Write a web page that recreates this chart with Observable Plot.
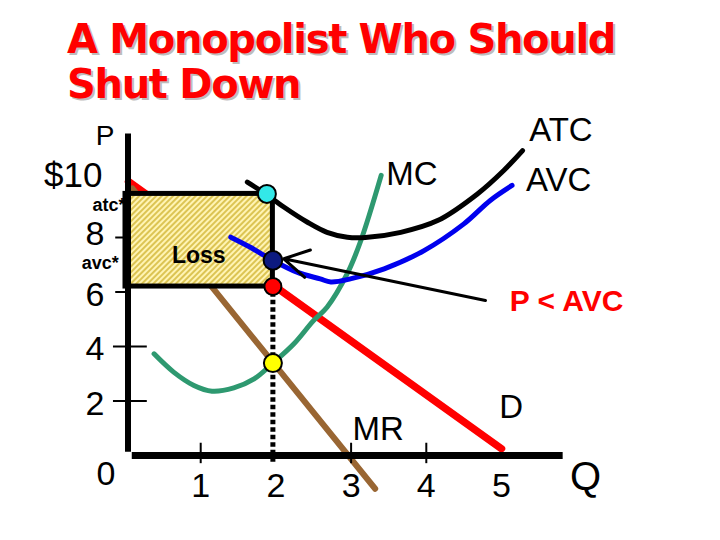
<!DOCTYPE html>
<html><head><meta charset="utf-8">
<script src="https://cdn.jsdelivr.net/npm/d3@7"></script>
<script src="https://cdn.jsdelivr.net/npm/@observablehq/plot@0.6"></script>
<style>
html,body{margin:0;padding:0;background:#fff;}
#wrap{position:relative;width:720px;height:540px;}
#title{position:absolute;left:67px;top:17px;margin:0;font-family:"DejaVu Sans",sans-serif;font-weight:bold;font-size:40px;letter-spacing:-1.3px;line-height:45px;color:#ff0000;text-shadow:2px 2px 0 #bdbdbd;white-space:nowrap;z-index:2;}
</style></head><body>
<div id="wrap"><div id="title">A Monopolist Who Should<br>Shut Down</div><div id="chart"></div></div>
<script>
// ---- data ----
const qStar = 1.96;      // output where MR = MC
const priceStar = 6.2;   // price on demand at qStar
const avcStar = 7.16;    // AVC at qStar
const atcStar = 9.6;     // ATC at qStar
const atcDotQ = 1.88;
const mcAtQStar = 3.39;

const demandQ = [0.04, 5.0];
const demandP = [10.05, 0.25];
const mrQ = [0.09, 3.32];
const mrP = [9.8, -1.22];
const mcQ = [0.38, 0.64, 0.91, 1.15, 1.44, 1.71, 1.96, 2.24, 2.50, 2.68, 2.95, 3.13, 3.40];
const mcP = [3.73, 3.06, 2.57, 2.36, 2.48, 2.81, 3.39, 4.10, 4.95, 5.44, 6.68, 7.89, 10.28];
const atcQ = [1.62, 1.88, 2.11, 2.42, 2.68, 2.95, 3.19, 3.66, 4.15, 4.68, 5.03, 5.28];
const atcP = [10.03, 9.57, 9.11, 8.56, 8.19, 8.01, 8.00, 8.19, 8.62, 9.60, 10.46, 11.19];
const avcQ = [1.40, 1.66, 1.96, 2.28, 2.59, 2.73, 2.99, 3.44, 3.97, 4.50, 4.85, 5.14];
const avcP = [8.01, 7.64, 7.16, 6.73, 6.48, 6.37, 6.48, 6.85, 7.52, 8.50, 9.36, 9.91];

const xTickValues = [1, 2, 3, 4, 5];
const xTickText = ["1", "2", "3", "4", "5"];
const xTickMarks = [1, 3, 4];
const yTickValues = [8, 6, 4, 2];
const yTickText = ["8", "6", "4", "2"];
const yTickMarksShort = [8, 6];
const yTickMarksLong = [4, 2];

const curveLabels = ["MC", "ATC", "AVC", "MR", "D"];
const curveLabelQ = [3.81, 5.79, 5.76, 3.36, 5.13];
const curveLabelP = [10.31, 11.93, 10.09, 0.97, 1.78];

const zip = (q, p) => q.map((d, i) => ({q: d, p: p[i]}));
const txt = (t, q, p) => t.map((d, i) => ({t: d, q: q[i], p: p[i]}));
const yLabels = txt(yTickText, yTickValues.map(() => 0), yTickValues);

const chart = Plot.plot({
  width: 720, height: 540,
  marginLeft: 125, marginRight: 143.8, marginTop: 128, marginBottom: 85,
  x: {domain: [0, 6], axis: null},
  y: {domain: [0, 12], axis: null},
  style: {fontFamily: "'Liberation Sans', Arial, sans-serif", background: "white", overflow: "visible"},
  marks: [
    Plot.line(zip(demandQ, demandP), {x: "q", y: "p", stroke: "#ff0000", strokeWidth: 7.5}),
    Plot.line(zip(mrQ, mrP), {x: "q", y: "p", stroke: "#996633", strokeWidth: 6}),
    Plot.rect([{x1: 0, x2: qStar, y1: priceStar, y2: atcStar}], {x1: "x1", x2: "x2", y1: "y1", y2: "y2", fill: "url(#hatch)", stroke: "black", strokeWidth: 5}),
    Plot.ruleX([qStar], {y1: -0.25, y2: priceStar, stroke: "black", strokeWidth: 5, strokeDasharray: "4.5,3"}),
    Plot.line(zip(mcQ, mcP), {x: "q", y: "p", stroke: "#2e9970", strokeWidth: 5, curve: "catmull-rom"}),
    Plot.line(zip(atcQ, atcP), {x: "q", y: "p", stroke: "black", strokeWidth: 5, curve: "catmull-rom"}),
    Plot.line(zip(avcQ, avcP), {x: "q", y: "p", stroke: "#0000ee", strokeWidth: 5, curve: "catmull-rom"}),
    Plot.arrow([{x1: 4.787, y1: 5.69, x2: 2.105, y2: 7.22}], {x1: "x1", y1: "y1", x2: "x2", y2: "y2", stroke: "black", strokeWidth: 3, headLength: 14}),
    // axes
    Plot.ruleX([0], {y1: 0.12, y2: 11.8, stroke: "black", strokeWidth: 6, dx: 2.5}),
    Plot.ruleY([0], {x1: 0.09, x2: 5.82, stroke: "black", strokeWidth: 7}),
    Plot.ruleY(yTickMarksShort, {x1: -0.13, x2: 0, stroke: "black", strokeWidth: 2}),
    Plot.ruleY(yTickMarksLong, {x1: -0.16, x2: 0.29, stroke: "black", strokeWidth: 2}),
    Plot.ruleX(xTickMarks, {y1: -0.3, y2: 0.45, stroke: "black", strokeWidth: 2}),
    // dots
    Plot.dot([{q: atcDotQ, p: atcStar}], {x: "q", y: "p", r: 9, fill: "#33e8e8", stroke: "black", strokeWidth: 2}),
    Plot.dot([{q: qStar, p: avcStar}], {x: "q", y: "p", r: 9.3, fill: "#0c1a80", stroke: "black", strokeWidth: 2}),
    Plot.dot([{q: qStar, p: priceStar}], {x: "q", y: "p", r: 8.5, fill: "#ff0000", stroke: "black", strokeWidth: 2}),
    Plot.dot([{q: qStar, p: mcAtQStar}], {x: "q", y: "p", r: 9, fill: "#ffff00", stroke: "black", strokeWidth: 2}),
    // labels
    Plot.text(txt(curveLabels, curveLabelQ, curveLabelP), {x: "q", y: "p", text: "t", fontSize: 33, fill: "black"}),
    Plot.text(["P"], {x: -0.27, y: 11.74, text: d => d, fontSize: 28, fill: "black"}),
    Plot.text(["Q"], {x: 6.117, y: -0.8, text: d => d, fontSize: 40, fill: "black"}),
    Plot.text(["$10"], {x: 0, y: 10, text: d => d, dx: -23, dy: -7, fontSize: 35, textAnchor: "end", fill: "black"}),
    Plot.text(yLabels.slice(0, 1), {x: "q", y: "p", text: "t", dx: -21, dy: -3, fontSize: 34, textAnchor: "end", fill: "black"}),
    Plot.text(yLabels.slice(1), {x: "q", y: "p", text: "t", dx: -21, dy: 3, fontSize: 34, textAnchor: "end", fill: "black"}),
    Plot.text(["0"], {x: 0, y: 0, text: d => d, dx: -19.5, dy: 19, fontSize: 34, fill: "black"}),
    Plot.text(txt(xTickText, xTickValues, xTickValues.map(() => 0)), {x: "q", y: "p", text: "t", dy: 31, fontSize: 34, fill: "black"}),
    Plot.text(["atc*"], {x: 0, y: 9.18, text: d => d, fontSize: 18, fontWeight: "bold", textAnchor: "end", fill: "black"}),
    Plot.text(["avc*"], {x: -0.09, y: 7.06, text: d => d, fontSize: 18, fontWeight: "bold", textAnchor: "end", fill: "black"}),
    Plot.text(["Loss"], {x: 0.975, y: 7.34, text: d => d, fontSize: 23, fontWeight: "bold", fill: "black"}),
    Plot.text(["P < AVC"], {x: 5.864, y: 5.66, text: d => d, fontSize: 30, fontWeight: "bold", fill: "#ff0000"})
  ]
});

const ns = "http://www.w3.org/2000/svg";
const defs = document.createElementNS(ns, "defs");
const pat = document.createElementNS(ns, "pattern");
pat.setAttribute("id", "hatch");
pat.setAttribute("patternUnits", "userSpaceOnUse");
pat.setAttribute("width", "4");
pat.setAttribute("height", "4");
pat.setAttribute("patternTransform", "rotate(45)");
const bg = document.createElementNS(ns, "rect");
bg.setAttribute("width", "4"); bg.setAttribute("height", "4"); bg.setAttribute("fill", "#fff4b4");
const st = document.createElementNS(ns, "rect");
st.setAttribute("width", "2"); st.setAttribute("height", "4"); st.setAttribute("fill", "#dcc453");
pat.appendChild(bg); pat.appendChild(st);
defs.appendChild(pat);
chart.insertBefore(defs, chart.firstChild);
document.getElementById("chart").appendChild(chart);
</script>
</body></html>
